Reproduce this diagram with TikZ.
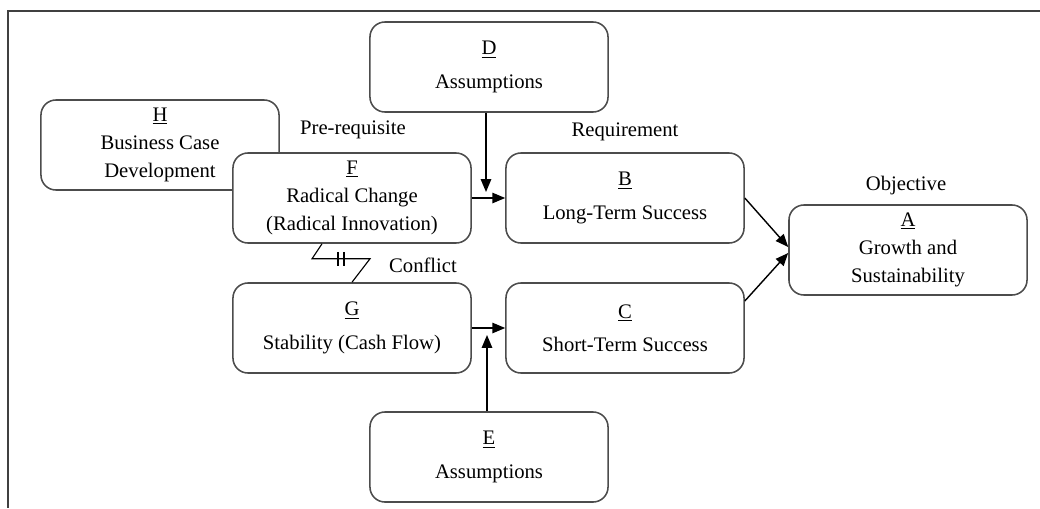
\documentclass[tikz,border=0pt]{standalone}
\usepackage{fontspec}
\setmainfont{Liberation Serif}
\usetikzlibrary{arrows.meta,calc,positioning}

\begin{document}
\begin{tikzpicture}[x=0.025cm,y=-0.025cm,
box/.style={draw=black!70,line width=1.1pt,fill=white,rounded corners=0.375cm,
minimum width=5.95cm,minimum height=2.25cm,align=center,
font=\fontsize{14.7}{19.8}\selectfont},
lbl/.style={font=\fontsize{14.7}{19.8}\selectfont},
arr/.style={-{Triangle[length=0.32cm,width=0.26cm]},line width=1pt}]
\useasboundingbox (0,0) rectangle (1040,508);
\draw[black!75,line width=1.4pt] (1040,11) -- (8,11) -- (8,508);
\node[box] (D) at (489,67) {\underline{D}\\[4pt]Assumptions};
\node[box] (H) at (160,145) {\underline{H}\\Business Case\\Development};
\node[box] (F) at (352,198) {\underline{F}\\Radical Change\\(Radical Innovation)};
\node[box] (B) at (625,198) {\underline{B}\\[4pt]Long-Term Success};
\node[box] (A) at (908,250) {\underline{A}\\Growth and\\Sustainability};
\node[box] (G) at (352,328) {\underline{G}\\[4pt]Stability (Cash Flow)};
\node[box] (C) at (625,328) {\underline{C}\\[4pt]Short-Term Success};
\node[box] (E) at (489,457) {\underline{E}\\[4pt]Assumptions};
\node[lbl] (pre) at (353,130) {Pre-requisite};
\node[lbl] (req) at (625,132) {Requirement};
\node[lbl] (obj) at (906,186) {Objective};
\node[lbl] (con) at (423,265) {Conflict};
\coordinate (dtip) at (486,192);
\coordinate (etip) at (487,335);
\draw[arr] (F) -- (B);
\draw[arr] (G) -- (C);
\draw[arr] (D.south -| dtip) -- (dtip);
\draw[arr] (E.north -| etip) -- (etip);
\draw[arr] (B.east) -- ($(A.west)+(0,-3)$);
\draw[arr] ($(C.east)+(0,-27)$) -- ($(A.west)+(0,3)$);
% conflict
\draw[line width=0.8pt] ([xshift=-0.75cm]F.south) -- ++(-10,15) coordinate (cfa)
  -- ++(58,0) -- (G.north);
\draw[line width=0.8pt] ($(cfa)+(26,-7)$) -- ++(0,14);
\draw[line width=0.8pt] ($(cfa)+(32,-7)$) -- ++(0,14);
\end{tikzpicture}
\end{document}
